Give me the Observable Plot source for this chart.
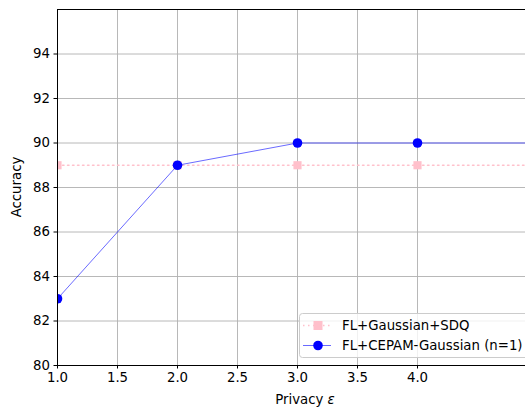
<!DOCTYPE html>
<html>
<head>
<meta charset="utf-8">
<script src="https://cdn.jsdelivr.net/npm/d3@7"></script>
<script src="https://cdn.jsdelivr.net/npm/@observablehq/plot@0.6"></script>
<style>
  html, body { margin: 0; padding: 0; background: #fff; }
  #chart { width: 525px; height: 410px; overflow: hidden; }
  svg { font-family: "DejaVu Sans", sans-serif; }
</style>
</head>
<body>
<div id="chart"></div>
<script>
const epsilons = [1, 2, 3, 4, 5];
const sdqAccuracy = [89, 89, 89, 89, 89];
const cepamAccuracy = [83, 89, 90, 90, 90];
const xTicks = [1.0, 1.5, 2.0, 2.5, 3.0, 3.5, 4.0];
const yTicks = [80, 82, 84, 86, 88, 90, 92, 94];
const seriesNames = ["FL+Gaussian+SDQ", "FL+CEPAM-Gaussian (n=1)"];

const sdq = epsilons.map((e, i) => ({x: e, y: sdqAccuracy[i]}));
const cepam = epsilons.map((e, i) => ({x: e, y: cepamAccuracy[i]}));

const W = 525, H = 410;
const mL = 57, mT = 9, mB = 45, mR = 0;
const FS = 13.3;

const plot = Plot.plot({
  width: W,
  height: H,
  marginLeft: mL,
  marginTop: mT,
  marginBottom: mB,
  marginRight: mR,
  style: {fontFamily: "DejaVu Sans, sans-serif", fontSize: FS + "px", background: "#fff", color: "#000"},
  x: {domain: [1, 4.9]},
  y: {domain: [80, 96]},
  marks: [
    Plot.gridX(xTicks, {stroke: "#b0b0b0", strokeOpacity: 1, strokeWidth: 0.9}),
    Plot.gridY(yTicks, {stroke: "#b0b0b0", strokeOpacity: 1, strokeWidth: 0.9}),
    Plot.line(sdq, {x: "x", y: "y", stroke: "pink", strokeWidth: 1.5, strokeDasharray: "1.5,3.5", clip: true}),
    Plot.dot(sdq, {x: "x", y: "y", symbol: "square", r: 4.6, fill: "pink", stroke: "none", clip: true}),
    Plot.line(cepam, {x: "x", y: "y", stroke: "#0000ff", strokeOpacity: 0.65, strokeWidth: 0.9, clip: true}),
    Plot.dot(cepam, {x: "x", y: "y", r: 4.8, fill: "#0000ff", stroke: "none", clip: true}),
    Plot.axisX(xTicks, {tickSize: 3.5, tickPadding: 4, tickFormat: d3.format(".1f"), label: null, fontSize: FS, stroke: "#000"}),
    Plot.axisY(yTicks, {tickSize: 3.5, tickPadding: 4, label: null, fontSize: FS, stroke: "#000"}),
    Plot.ruleX([1], {stroke: "#000", strokeWidth: 1}),
    Plot.ruleY([80, 96], {stroke: "#000", strokeWidth: 1})
  ]
});

document.getElementById("chart").appendChild(plot);

const svg = d3.select(plot);
// axis labels
const xl = svg.append("text")
  .attr("x", 305).attr("y", 404)
  .attr("text-anchor", "middle")
  .attr("font-size", FS).attr("fill", "#000");
xl.append("tspan").text("Privacy ");
xl.append("tspan").attr("font-style", "italic").text("ε");

svg.append("text")
  .attr("transform", "translate(21,187) rotate(-90)")
  .attr("text-anchor", "middle")
  .attr("font-size", FS).attr("fill", "#000")
  .text("Accuracy");

// legend
const lg = svg.append("g").attr("text-anchor", "start");
lg.append("rect")
  .attr("x", 299.5).attr("y", 313.5).attr("width", 240).attr("height", 44)
  .attr("rx", 3).attr("fill", "#fff").attr("fill-opacity", 0.8)
  .attr("stroke", "#cccccc").attr("stroke-width", 1);
// entry 1
lg.append("line").attr("x1", 303).attr("x2", 331).attr("y1", 325.5).attr("y2", 325.5)
  .attr("stroke", "pink").attr("stroke-width", 1.5).attr("stroke-dasharray", "1.5,3.5");
lg.append("rect").attr("x", 313.5).attr("y", 321).attr("width", 9).attr("height", 9).attr("fill", "pink");
lg.append("text").attr("x", 342).attr("y", 330).attr("font-size", FS).attr("fill", "#000")
  .attr("text-anchor", "start").text(seriesNames[0]);
// entry 2
lg.append("line").attr("x1", 303).attr("x2", 331).attr("y1", 345.5).attr("y2", 345.5)
  .attr("stroke", "#0000ff").attr("stroke-opacity", 0.65).attr("stroke-width", 0.9);
lg.append("circle").attr("cx", 318).attr("cy", 345.5).attr("r", 4.8).attr("fill", "#0000ff");
lg.append("text").attr("x", 342).attr("y", 350).attr("font-size", FS).attr("fill", "#000")
  .attr("text-anchor", "start").text(seriesNames[1]);
</script>
</body>
</html>
